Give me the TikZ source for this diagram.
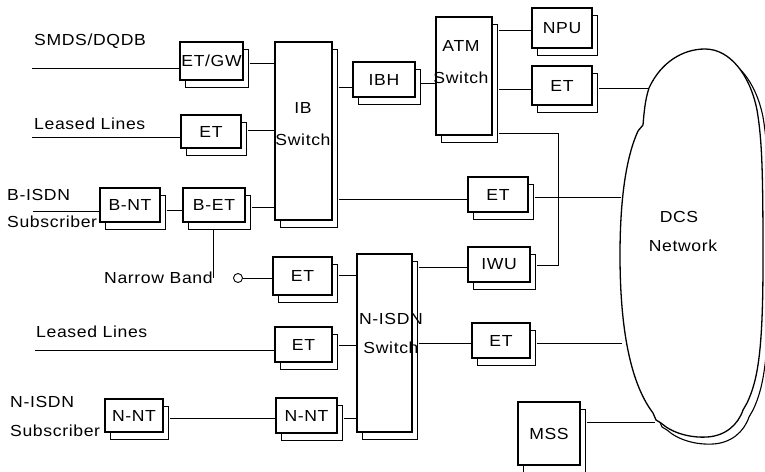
\documentclass[tikz,border=0pt]{standalone}
\usepackage{fontspec}
\setmainfont{Liberation Sans}[FakeStretch=1.1,LetterSpace=4]
\usetikzlibrary{shadows,calc}
\newcommand\dcsoutline{(705,49) .. controls (683,49) and (661,62) .. (649,88) .. controls (645,100) and (644,113) .. (643,125) -- (638,131) .. controls (627,155) and (620,195) .. (620,255) .. controls (620,320) and (628,380) .. (653,413) -- (656,420) -- (661,423) .. controls (672,433) and (690,438) .. (707,437) .. controls (725,436) and (738,425) .. (743,410) -- (747,403) .. controls (758,380) and (763,350) .. (763,260) .. controls (763,170) and (762,140) .. (757,110) .. controls (750,75) and (730,49) .. (705,49) -- cycle}
\tikzset{
  txt/.style={font=\fontsize{16}{19}\selectfont, inner sep=0pt},
  box/.style={draw, line width=1.1pt, fill=white, inner sep=0pt,
    font=\fontsize{16}{19}\selectfont,
    copy shadow={shadow xshift=5pt, shadow yshift=-7pt, draw, line width=0.8pt, fill=white}},
  conn/.style={line width=0.9pt},
}
\begin{document}
\begin{tikzpicture}[x=1pt,y=-1pt]
\useasboundingbox (0,0) rectangle (765,471);
% DCS cloud
\path[draw, line width=1.1pt, fill=white, xshift=6pt, yshift=-7pt] \dcsoutline;
\path[draw, line width=1.3pt, fill=white] \dcsoutline;
\node[txt] (dcs) at (679,217) {DCS};
\node[txt] (net) at (683,246) {Network};
\coordinate (c1) at (649,88);
\coordinate (c2) at (621,197);
\coordinate (c3) at (622,343);
\coordinate (c4) at (655,422);

% boxes
\node[box, minimum width=63pt, minimum height=38pt] (etgw) at (211.5,61) {ET/GW};
\node[box, minimum width=60pt, minimum height=33pt] (et1) at (211,131.5) {ET};
\node[box, minimum width=57pt, minimum height=178pt] (ib) at (303.5,131) {};
\node[txt, align=center, font=\fontsize{16}{32}\selectfont] (ibt) at (303,124) {IB\\Switch};
\node[box, minimum width=62pt, minimum height=35pt] (ibh) at (384,79.5) {IBH};
\node[box, minimum width=56pt, minimum height=118pt] (atm) at (464,76) {};
\node[txt, align=center, font=\fontsize{16}{32}\selectfont] (atmt) at (461,62) {ATM\\Switch};
\node[box, minimum width=60pt, minimum height=40pt] (npu) at (562,28) {NPU};
\node[box, minimum width=60pt, minimum height=39pt] (et2) at (562,85.5) {ET};
\node[box, minimum width=60pt, minimum height=34pt] (bnt) at (130,205) {B-NT};
\node[box, minimum width=62pt, minimum height=34pt] (bet) at (214,205) {B-ET};
\node[box, minimum width=60pt, minimum height=35pt] (et3) at (498,194.5) {ET};
\node[box, minimum width=59pt, minimum height=38pt] (etnb) at (302.5,276) {ET};
\node[box, minimum width=62pt, minimum height=35pt] (iwu) at (499,264.5) {IWU};
\node[box, minimum width=55pt, minimum height=178pt] (nisdn) at (384.5,343) {};
\node[txt, align=center, font=\fontsize{16}{29}\selectfont] (nisdnt) at (391,333) {N-ISDN\\Switch};
\node[box, minimum width=57pt, minimum height=35pt] (et4) at (303.5,344.5) {ET};
\node[box, minimum width=58pt, minimum height=35pt] (et5) at (501,340.5) {ET};
\node[box, minimum width=58pt, minimum height=33pt] (nnt1) at (134,415.5) {N-NT};
\node[box, minimum width=61pt, minimum height=35pt] (nnt2) at (306.5,415.5) {N-NT};
\node[box, minimum width=62pt, minimum height=63pt] (mss) at (549,433.5) {MSS};

% labels
\node[txt, anchor=west] (smdsl) at (34,41) {SMDS/DQDB};
\node[txt, anchor=west] (ll1l) at (34,124) {Leased Lines};
\node[txt, anchor=west, align=left, font=\fontsize{16}{27}\selectfont] (bisdnl) at (7,208.5) {B-ISDN\\Subscriber};
\node[txt, anchor=west] (nbl) at (104,278) {Narrow Band};
\node[txt, anchor=west] (ll2l) at (36,332) {Leased Lines};
\node[txt, anchor=west, align=left, font=\fontsize{16}{29}\selectfont] (nisdnl) at (10,416) {N-ISDN\\Subscriber};
% redraw boxes overlapping labels
\node[box, minimum width=60pt, minimum height=34pt] at (130,205) {B-NT};
\node[box, minimum width=58pt, minimum height=33pt] at (134,415.5) {N-NT};

\node[circle, draw, line width=0.9pt, inner sep=0pt, minimum size=9pt] (nbc) at (238,278) {};

% connectors
\coordinate (smds) at (32,68);
\coordinate (ll1) at (32,137);
\coordinate (bl) at (33,211);
\coordinate (ll2) at (35,350);
\coordinate (ring) at (558,133);
\draw[conn] (smds) -- (smds -| etgw.west);
\draw[conn] ($(etgw.east |- 0,63)+(6,0)$) -- (ib.west |- 0,63);
\draw[conn] (ll1) -- (ll1 -| et1.west);
\draw[conn] ($(et1.east |- 0,130)+(6,0)$) -- (ib.west |- 0,130);
\draw[conn] ($(ib.east |- 0,87)+(6,0)$) -- (ibh.west |- 0,87);
\draw[conn] ($(ibh.east |- 0,83)+(5,0)$) -- (atm.west |- 0,83);
\draw[conn] ($(atm.east |- 0,30)+(6,0)$) -- (npu.west |- 0,30);
\draw[conn] ($(atm.east |- 0,89)+(6,0)$) -- (et2.west |- 0,89);
\draw[conn] ($(atm.east |- ring)+(6,0)$) -- (ring) -- (ring |- 0,265) -- ($(iwu.east |- 0,265)+(6,0)$);
\draw[conn] ($(et2.east |- c1)+(6,0)$) -- (c1);
\draw[conn] (bl) -- (bl -| bnt.west);
\draw[conn] ($(bnt.east |- 0,210)+(6,0)$) -- (bet.west |- 0,210);
\draw[conn] ($(bet.east |- 0,207)+(6,0)$) -- (ib.west |- 0,207);
\draw[conn] ($(ib.east |- 0,199)+(6,0)$) -- (et3.west |- 0,199);
\draw[conn] ($(et3.east |- c2)+(6,0)$) -- (c2);
\draw[conn] ($(bet.south)+(-1,7)$) -- ($(bet.south |- nbc)+(-1,0)$);
\draw[conn] (nbc.east) -- (etnb.west |- nbc);
\draw[conn] ($(etnb.east |- 0,275)+(6,0)$) -- (nisdn.west |- 0,275);
\draw[conn] ($(nisdn.east |- 0,267)+(6,0)$) -- (iwu.west |- 0,267);
\draw[conn] (ll2) -- (ll2 -| et4.west);
\draw[conn] ($(et4.east |- 0,345)+(6,0)$) -- (nisdn.west |- 0,345);
\draw[conn] ($(nisdn.east |- c3)+(6,0)$) -- (et5.west |- c3);
\draw[conn] ($(et5.east |- c3)+(6,0)$) -- (c3);
\draw[conn] ($(nnt1.east |- 0,418)+(6,0)$) -- (nnt2.west |- 0,418);
\draw[conn] ($(nnt2.east |- 0,418)+(6,0)$) -- (nisdn.west |- 0,418);
\draw[conn] ($(mss.east |- c4)+(6,0)$) -- (c4);
\end{tikzpicture}
\end{document}
